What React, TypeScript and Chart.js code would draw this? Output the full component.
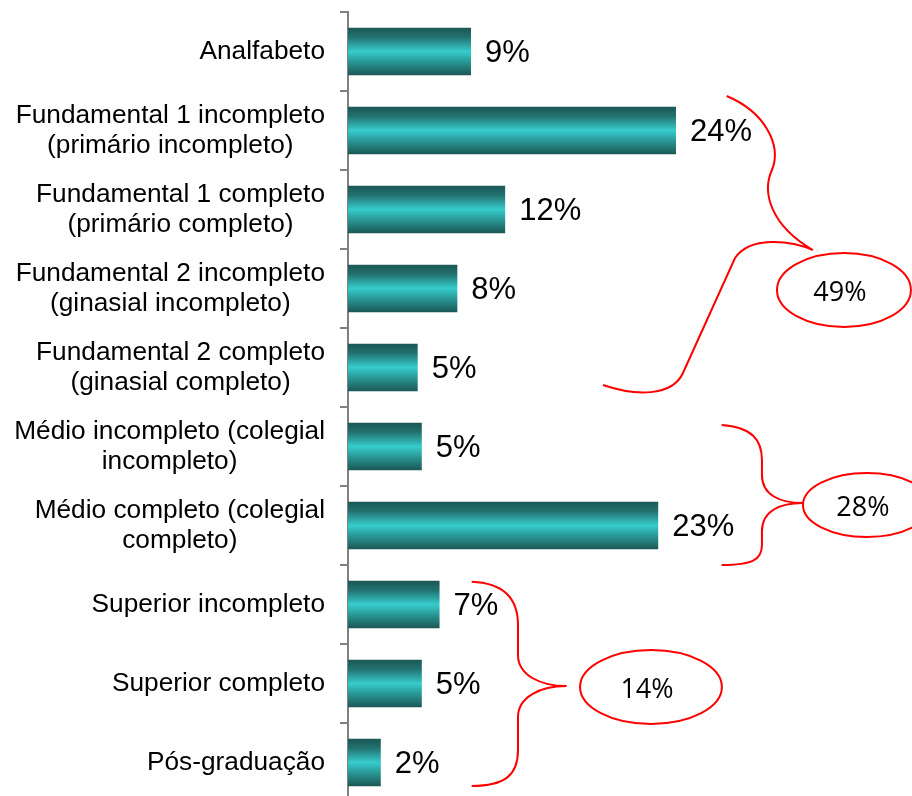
import React, { useEffect, useRef } from "react";
import { Chart, registerables } from "chart.js";

Chart.register(...registerables);

// ---- data ----
const categories: string[][] = [
  ["Analfabeto"],
  ["Fundamental 1 incompleto", "(primário incompleto)"],
  ["Fundamental 1 completo", "(primário completo)"],
  ["Fundamental 2 incompleto", "(ginasial incompleto)"],
  ["Fundamental 2 completo", "(ginasial completo)"],
  ["Médio incompleto (colegial", "incompleto)"],
  ["Médio completo (colegial", "completo)"],
  ["Superior incompleto"],
  ["Superior completo"],
  ["Pós-graduação"],
];
const values: number[] = [9, 24, 11.5, 8, 5.1, 5.4, 22.7, 6.7, 5.4, 2.4];
const valueLabels: string[] = ["9%", "24%", "12%", "8%", "5%", "5%", "23%", "7%", "5%", "2%"];
const groupTotals: string[] = ["49%", "28%", "14%"];

const LABEL_FONT = '25px "Liberation Sans", Arial, sans-serif';
const VALUE_FONT = '31px "Liberation Sans", Arial, sans-serif';
const TOTAL_FONT = '27px "Open Sans", "Liberation Sans", sans-serif';
const LABEL_SX = 1.05;

// Annotation shapes in data units: [value, categoryIndex]
type Cmd = [string, ...number[]];
const braces: Cmd[][] = [
  [
    ["M", 27.71, 0.563],
    ["C", 30.51, 0.766, 31.76, 1.184, 31.02, 1.5],
    ["C", 30.29, 1.778, 30.88, 2.196, 34.02, 2.513],
    ["M", 34.02, 2.513],
    ["C", 32.34, 2.386, 29.41, 2.335, 28.32, 2.614],
    ["L", 24.51, 4.07],
    ["C", 23.71, 4.373, 21.0, 4.361, 18.66, 4.222],
  ],
  [
    ["M", 27.34, 4.728],
    ["C", 29.56, 4.753, 30.29, 4.918, 30.29, 5.171],
    ["L", 30.29, 5.361],
    ["C", 30.29, 5.614, 31.61, 5.715, 33.29, 5.715],
    ["C", 31.61, 5.715, 30.29, 5.816, 30.29, 6.07],
    ["L", 30.29, 6.247],
    ["C", 30.29, 6.437, 29.56, 6.5, 27.34, 6.5],
  ],
  [
    ["M", 9.05, 6.711],
    ["C", 11.49, 6.728, 12.44, 6.943, 12.44, 7.259],
    ["L", 12.44, 7.639],
    ["C", 12.44, 7.892, 14.05, 8.032, 16.0, 8.032],
    ["C", 14.05, 8.032, 12.44, 8.171, 12.44, 8.424],
    ["L", 12.44, 8.842],
    ["C", 12.44, 9.158, 11.49, 9.297, 9.05, 9.297],
  ],
];
// ellipse: center value, center category, radius in value units, radius in category units
const ellipses: number[][] = [
  [36.29, 3.019, 4.9, 0.468],
  [37.97, 5.741, 4.68, 0.405],
  [22.17, 8.044, 5.19, 0.468],
];

const overlayPlugin = {
  id: "overlay",
  afterDatasetsDraw(chart: any) {
    const { ctx, chartArea } = chart;
    const xs = chart.scales.x;
    const ys = chart.scales.y;

    // category labels (right-aligned blocks, centred lines)
    ctx.save();
    ctx.font = LABEL_FONT;
    ctx.fillStyle = "#000";
    ctx.textAlign = "center";
    ctx.textBaseline = "middle";
    const right = chartArea.left - 23;
    categories.forEach((lines, i) => {
      const yc = ys.getPixelForValue(i);
      const w = Math.max(...lines.map((l) => ctx.measureText(l).width)) * LABEL_SX;
      const cx = right - w / 2;
      lines.forEach((l, j) => {
        const yy = yc + (j - (lines.length - 1) / 2) * 30 + 1;
        ctx.save();
        ctx.translate(cx, yy);
        ctx.scale(LABEL_SX, 1);
        ctx.fillText(l, 0, 0);
        ctx.restore();
      });
    });
    ctx.restore();

    // value labels
    ctx.save();
    ctx.font = VALUE_FONT;
    ctx.fillStyle = "#000";
    ctx.textAlign = "left";
    ctx.textBaseline = "middle";
    values.forEach((v, i) => {
      ctx.fillText(valueLabels[i], xs.getPixelForValue(v) + 14, ys.getPixelForValue(i) + 2);
    });
    ctx.restore();

    // braces
    const px = (v: number) => xs.getPixelForValue(v);
    const py = (c: number) => ys.getPixelForValue(c);
    ctx.save();
    ctx.strokeStyle = "#ff0000";
    ctx.lineWidth = 2;
    braces.forEach((cmds) => {
      ctx.beginPath();
      cmds.forEach((cmd) => {
        const [t, ...n] = cmd;
        if (t === "M") ctx.moveTo(px(n[0]), py(n[1]));
        else if (t === "L") ctx.lineTo(px(n[0]), py(n[1]));
        else ctx.bezierCurveTo(px(n[0]), py(n[1]), px(n[2]), py(n[3]), px(n[4]), py(n[5]));
      });
      ctx.stroke();
    });

    // ellipses with totals
    const catH = ys.getPixelForValue(1) - ys.getPixelForValue(0);
    ellipses.forEach((e, i) => {
      const cx = px(e[0]);
      const cy = py(e[1]);
      const rx = px(e[0] + e[2]) - cx;
      const ry = catH * e[3];
      ctx.beginPath();
      ctx.ellipse(cx, cy, rx, ry, 0, 0, Math.PI * 2);
      ctx.stroke();
      ctx.font = TOTAL_FONT;
      ctx.fillStyle = "#000";
      ctx.textAlign = "center";
      ctx.textBaseline = "middle";
      ctx.fillText(groupTotals[i], cx - 4, cy + 3);
    });
    ctx.restore();
  },
};

export default function App() {
  const ref = useRef<HTMLCanvasElement>(null);
  useEffect(() => {
    const canvas = ref.current!;
    const barFill = (c: any) => {
      const chart = c.chart;
      const ys = chart.scales && chart.scales.y;
      if (c.type !== "data" || !ys || !chart.chartArea) return "#2aa7a5";
      const yc = ys.getPixelForValue(c.dataIndex);
      const half = (ys.getPixelForValue(1) - ys.getPixelForValue(0)) * 0.3;
      const g = chart.ctx.createLinearGradient(0, yc - half, 0, yc + half);
      g.addColorStop(0, "#1b5755");
      g.addColorStop(0.2, "#227270");
      g.addColorStop(0.5, "#36cccc");
      g.addColorStop(0.75, "#27908e");
      g.addColorStop(1, "#1b5755");
      return g;
    };
    const chart = new Chart(canvas, {
      type: "bar",
      data: {
        labels: categories.map((l) => l.join(" ")),
        datasets: [
          {
            data: values,
            backgroundColor: barFill,
            borderWidth: 0,
            barPercentage: 0.6,
            categoryPercentage: 1.0,
          },
        ],
      },
      options: {
        indexAxis: "y",
        responsive: false,
        animation: false,
        events: [],
        layout: { padding: { top: 12, bottom: 8, left: 0, right: 0 } },
        plugins: { legend: { display: false }, tooltip: { enabled: false } },
        scales: {
          x: { display: false, min: 0, max: 41.27 },
          y: {
            position: "left",
            ticks: { display: false },
            grid: {
              display: true,
              drawOnChartArea: false,
              drawTicks: true,
              tickLength: 8,
              color: "#808080",
              lineWidth: 2,
              offset: true,
            },
            border: { display: true, color: "#808080", width: 2 },
            afterFit: (s: any) => {
              s.width = 348;
            },
          },
        },
      },
      plugins: [overlayPlugin],
    } as any);
    return () => chart.destroy();
  }, []);
  return (
    <div
      style={{
        position: "fixed",
        left: 0,
        top: 0,
        width: 912,
        height: 796,
        overflow: "hidden",
        background: "#fff",
      }}
    >
      <canvas ref={ref} width={912} height={810} style={{ display: "block" }} />
    </div>
  );
}
